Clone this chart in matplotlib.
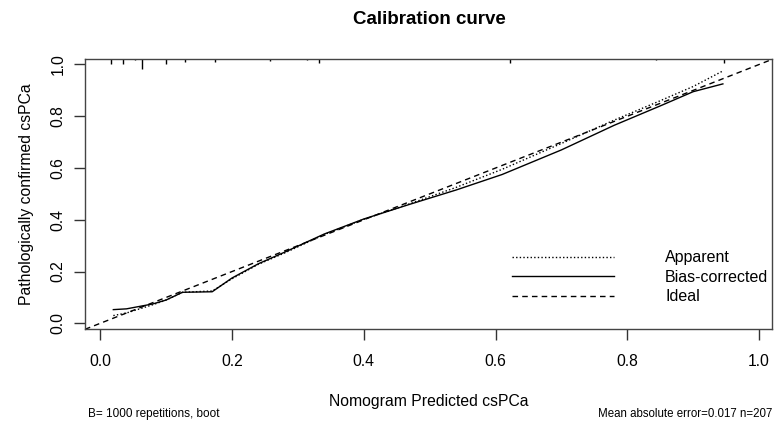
import matplotlib.pyplot as plt
from matplotlib.lines import Line2D

plt.rcParams['font.family'] = ['Liberation Sans', 'DejaVu Sans']

# predicted probability grid of the calibration curves
pred = [0.02, 0.04, 0.08, 0.10, 0.125, 0.17, 0.20, 0.24, 0.28, 0.34,
        0.40, 0.47, 0.54, 0.61, 0.70, 0.78, 0.85, 0.90, 0.945]
apparent = [0.03, 0.04, 0.072, 0.09, 0.12, 0.125, 0.172, 0.228, 0.272, 0.343,
            0.402, 0.462, 0.525, 0.595, 0.695, 0.785, 0.86, 0.915, 0.975]
bias_corrected = [0.053, 0.056, 0.075, 0.09, 0.12, 0.122, 0.175, 0.23, 0.275, 0.345,
                  0.403, 0.46, 0.515, 0.575, 0.67, 0.765, 0.84, 0.895, 0.925]

# distribution of predictions (spikes along the top)
spike_x = [0.017, 0.034, 0.053, 0.063, 0.100, 0.129, 0.174, 0.258, 0.314,
           0.332, 0.622, 0.843, 0.946]
spike_freq = [5, 5, 1, 10, 5, 3, 3, 2, 1, 4, 4, 1, 4]

ticks = [0.0, 0.2, 0.4, 0.6, 0.8, 1.0]
lims = (-0.023, 1.02)

fig = plt.figure(figsize=(7.74, 4.25), dpi=100)
ax = fig.add_axes([85 / 774, 1 - 329.3 / 425, 687.3 / 774, 270 / 425])

ax.plot(pred, apparent, color='black', lw=1, linestyle=(0, (1, 1.6)), label='Apparent')
ax.plot(pred, bias_corrected, color='black', lw=1, label='Bias-corrected')
ax.axline((0, 0), (1, 1), color='black', lw=1, linestyle=(0, (4, 3)), label='Ideal')

# spikes hang down from the top of the box
unit = 0.0039
ax.vlines(spike_x, [lims[1] - f * unit for f in spike_freq], lims[1],
          color='black', lw=1)

ax.set_xlim(lims)
ax.set_ylim(lims)
ax.set_xticks(ticks)
ax.set_yticks(ticks)
ax.set_xticklabels(['%.1f' % t for t in ticks], fontsize=11.3)
ax.set_yticklabels(['%.1f' % t for t in ticks], fontsize=11.3, rotation=90, va='center')
ax.tick_params(axis='x', length=8, width=1, pad=10, color='#333333')
ax.tick_params(axis='y', length=8, width=1, pad=6, color='#333333')
for s in ax.spines.values():
    s.set_color('#444444')
    s.set_linewidth(1)

ax.set_xlabel('Nomogram Predicted csPCa', fontsize=11.3, labelpad=18)
ax.set_ylabel('Pathologically confirmed csPCa', fontsize=11.3, labelpad=12)

handles = [Line2D([], [], color='black', lw=1, linestyle=(0, (1, 1.6))),
           Line2D([], [], color='black', lw=1),
           Line2D([], [], color='black', lw=1, linestyle=(0, (4, 3)))]
ax.legend(handles, ['Apparent', 'Bias-corrected', 'Ideal'], loc='center left',
          bbox_to_anchor=(0.621, 0.192), frameon=False, fontsize=11.5,
          handlelength=6.4, handletextpad=3.2, labelspacing=0.28,
          borderpad=0, borderaxespad=0)

fig.text(429 / 774, 1 - 20 / 425, 'Calibration curve', ha='center', va='center',
         fontsize=13.5, fontweight='bold')
fig.text(88 / 774, 1 - 414 / 425, 'B= 1000 repetitions, boot', ha='left', va='center',
         fontsize=8.5)
fig.text(772 / 774, 1 - 414 / 425, 'Mean absolute error=0.017 n=207', ha='right',
         va='center', fontsize=8.3)

fig.savefig('out.png', dpi=100)
